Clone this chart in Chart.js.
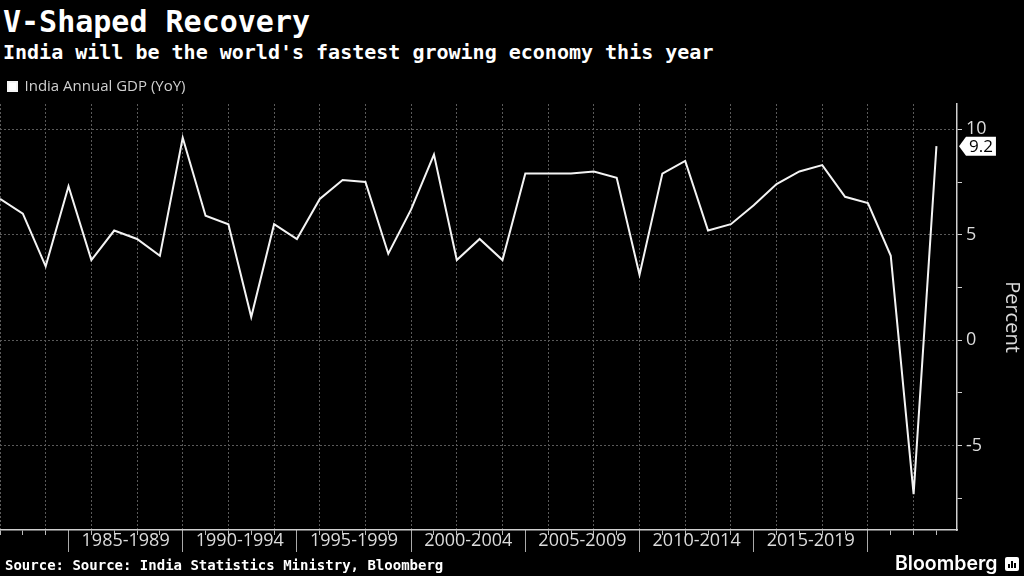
<!DOCTYPE html>
<html>
<head>
<meta charset="utf-8">
<script src="https://cdn.jsdelivr.net/npm/chart.js@4.4.1/dist/chart.umd.min.js"></script>
<style>
  body { margin: 0; background: #000; width: 1024px; height: 576px; overflow: hidden; position: relative; }
  .mono { font-family: "DejaVu Sans Mono", monospace; font-weight: bold; color: #fff; position: absolute; left: 3px; white-space: nowrap; }
  #title { top: 7px; font-size: 30px; line-height: 30px; }
  #subtitle { top: 42px; font-size: 20px; line-height: 20px; }
  #source { top: 558px; font-size: 14px; line-height: 14px; left: 5px; }
  #wrap { position: absolute; left: 0; top: 71px; width: 1024px; height: 489px; }
  #brand { position: absolute; left: 895px; top: 551px; font-family: Inter, sans-serif; font-weight: 600; font-size: 19.5px; line-height: 24px; color: #fff; }
  #brand .mark { display: inline-block; width: 14px; height: 14px; background: #fff; border-radius: 2px; margin-left: 8px; vertical-align: -1px; position: relative; }
  #brand .mark i { position: absolute; bottom: 3px; width: 2px; background: #000; }
</style>
</head>
<body>
<div id="title" class="mono">V-Shaped Recovery</div>
<div id="subtitle" class="mono">India will be the world's fastest growing economy this year</div>
<div id="wrap"><canvas id="chart"></canvas></div>
<div id="source" class="mono">Source: Source: India Statistics Ministry, Bloomberg</div>
<div id="brand">Bloomberg<span class="mark"><i style="left:3px;height:4px"></i><i style="left:6px;height:7px"></i><i style="left:9px;height:5px"></i></span></div>
<script>
const years = [
  1980, 1981, 1982, 1983, 1984, 1985, 1986, 1987, 1988, 1989,
  1990, 1991, 1992, 1993, 1994, 1995, 1996, 1997, 1998, 1999,
  2000, 2001, 2002, 2003, 2004, 2005, 2006, 2007, 2008, 2009,
  2010, 2011, 2012, 2013, 2014, 2015, 2016, 2017, 2018, 2019,
  2020, 2021,
];
const gdpGrowth = [
  6.7, 6.0, 3.5, 7.3, 3.8, 5.2, 4.8, 4.0, 9.6, 5.9,
  5.5, 1.1, 5.5, 4.8, 6.7, 7.6, 7.5, 4.1, 6.2, 8.8,
  3.8, 4.8, 3.8, 7.9, 7.9, 7.9, 8.0, 7.7, 3.1, 7.9,
  8.5, 5.2, 5.5, 6.4, 7.4, 8.0, 8.3, 6.8, 6.5, 4.0,
  -7.3, 9.2,
];
const periodLabels = ["1985-1989", "1990-1994", "1995-1999", "2000-2004", "2005-2009", "2010-2014", "2015-2019"];
const yTickLabels = [-5, 0, 5, 10];

Chart.defaults.font.family = '"Open Sans", sans-serif';

// white tag with the latest value, pinned to the right axis
const lastValueTag = {
  id: "lastValueTag",
  afterDraw(chart) {
    const { ctx } = chart;
    const y = chart.scales.y;
    const data = chart.data.datasets[0].data;
    const value = data[data.length - 1].y;
    const py = y.getPixelForValue(value);
    const x0 = y.left + 2;
    const text = value.toFixed(1);
    ctx.save();
    ctx.font = '17px "Open Sans", sans-serif';
    const w = ctx.measureText(text).width + 6;
    ctx.fillStyle = "#fff";
    ctx.beginPath();
    ctx.moveTo(x0, py);
    ctx.lineTo(x0 + 7, py - 9.5);
    ctx.lineTo(x0 + 7 + w, py - 9.5);
    ctx.lineTo(x0 + 7 + w, py + 9.5);
    ctx.lineTo(x0 + 7, py + 9.5);
    ctx.closePath();
    ctx.fill();
    ctx.fillStyle = "#000";
    ctx.textBaseline = "middle";
    ctx.textAlign = "left";
    ctx.fillText(text, x0 + 10, py + 1);
    ctx.restore();
  },
};

const chartConfig = {
  type: "line",
  data: {
    datasets: [
      {
        label: "India Annual GDP (YoY)",
        data: years.map((yr, i) => ({ x: yr, y: gdpGrowth[i] })),
        borderColor: "#f4f4f4",
        backgroundColor: "#fff",
        borderWidth: 2,
        pointRadius: 0,
        tension: 0,
      },
    ],
  },
  options: {
    responsive: true,
    maintainAspectRatio: false,
    animation: false,
    layout: { padding: 0 },
    plugins: {
      tooltip: { enabled: false },
      legend: {
        align: "start",
        labels: {
          color: "#d0d0d0",
          boxWidth: 9,
          boxHeight: 9,
          padding: 8,
          font: { size: 15 },
        },
      },
    },
    scales: {
      x: {
        type: "linear",
        position: "bottom",
        weight: 0,
        min: 1980,
        max: 2021.9,
        ticks: { display: false, stepSize: 1, includeBounds: false },
        grid: {
          color: (c) => (c.tick && c.tick.value % 2 === 0 ? "#5a5a5a" : "transparent"),
          tickColor: "#bbb",
          tickLength: 5,
          tickBorderDash: [],
        },
        border: { color: "#cfcfcf", width: 1.5, dash: [2, 2] },
        afterFit: (scale) => {
          scale.height = 0;
        },
      },
      xl: {
        type: "linear",
        position: "bottom",
        weight: 1,
        min: 1980,
        max: 2021.9,
        afterBuildTicks: (scale) => {
          scale.ticks = periodLabels.map((l) => ({ value: parseInt(l, 10) + 0.5 }));
        },
        ticks: {
          autoSkip: false,
          maxRotation: 0,
          color: "#dcdcdc",
          font: { size: 18 },
          padding: -22,
          callback: (value, index) => periodLabels[index],
        },
        grid: {
          offset: true,
          drawOnChartArea: false,
          tickLength: 22,
          color: "#aaa",
          tickColor: "#aaa",
        },
        border: { display: false },
        afterFit: (scale) => {
          scale.height = 30;
        },
      },
      y: {
        position: "right",
        min: -9,
        max: 11.2,
        ticks: {
          stepSize: 2.5,
          includeBounds: false,
          color: "#dcdcdc",
          font: { size: 18 },
          padding: 4,
          callback: (value) => (yTickLabels.includes(value) ? String(value) : ""),
        },
        grid: {
          color: (c) => (c.tick && yTickLabels.includes(c.tick.value) ? "#5a5a5a" : "transparent"),
          tickColor: "#cfcfcf",
          tickLength: 5,
          tickBorderDash: [],
        },
        border: { color: "#cfcfcf", width: 1.5, dash: [2, 2] },
        title: {
          display: true,
          text: "Percent",
          color: "#dcdcdc",
          font: { size: 20 },
          padding: 0,
        },
        afterFit: (scale) => {
          scale.width = 67;
        },
      },
    },
  },
  plugins: [lastValueTag],
};

const gdpChart = new Chart(document.getElementById("chart"), chartConfig);
</script>
</body>
</html>
